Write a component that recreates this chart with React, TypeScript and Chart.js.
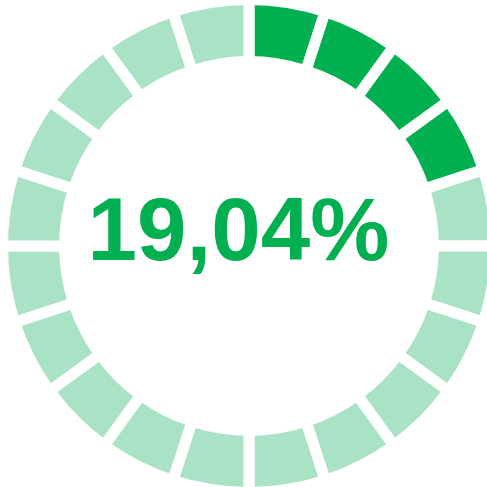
import React, { useEffect, useRef } from "react";
import { Chart, registerables } from "chart.js";

Chart.register(...registerables);

const segmentValues = [1, 1, 1, 1, 1, 1, 1, 1, 1, 1, 1, 1, 1, 1, 1, 1, 1, 1, 1, 1];
const filledSegments = 4;
const centerLabel = "19,04%";

const DARK = "#00B050";
const LIGHT = "#A9E2C5";

export default function App() {
  const ref = useRef<HTMLCanvasElement | null>(null);

  useEffect(() => {
    document.body.style.overflow = "hidden";
    const canvas = ref.current;
    if (!canvas) return;
    const centerText = {
      id: "centerText",
      afterDraw(chart: any) {
        const meta = chart.getDatasetMeta(0);
        const arc = meta.data[0];
        if (!arc) return;
        const { x, y } = arc;
        const ctx = chart.ctx;
        ctx.save();
        ctx.fillStyle = DARK;
        ctx.font = "bold 89px 'Liberation Sans', Arial, sans-serif";
        ctx.textAlign = "center";
        ctx.textBaseline = "alphabetic";
        ctx.fillText(centerLabel, x - 10.5, y + 14);
        ctx.restore();
      },
    };
    const chart = new Chart(canvas, {
      type: "doughnut",
      data: {
        labels: segmentValues.map((_, i) => `S${i + 1}`),
        datasets: [
          {
            data: segmentValues,
            backgroundColor: segmentValues.map((_, i) => (i < filledSegments ? DARK : LIGHT)),
            borderColor: "#ffffff",
            borderWidth: 11,
            hoverOffset: 0,
          },
        ],
      },
      options: {
        responsive: false,
        maintainAspectRatio: false,
        animation: false,
        cutout: "74.8%",
        layout: { padding: 0 },
        plugins: {
          legend: { display: false },
          tooltip: { enabled: false },
        },
        events: [],
      },
      plugins: [centerText],
    });
    return () => chart.destroy();
  }, []);

  return (
    <div style={{ position: "fixed", left: -3, top: -6, width: 504, height: 504 }}>
      <canvas ref={ref} width={504} height={504} style={{ width: 504, height: 504 }} />
    </div>
  );
}
